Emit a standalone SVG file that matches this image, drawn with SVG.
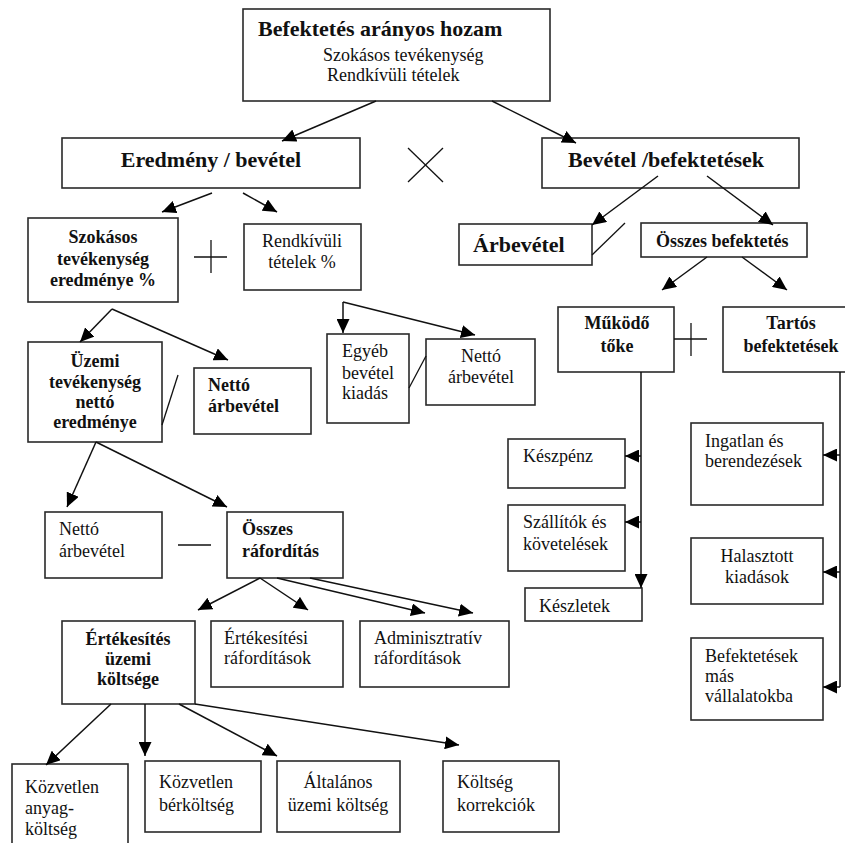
<svg xmlns="http://www.w3.org/2000/svg" width="845" height="843" viewBox="0 0 845 843">
<style>
.b{fill:#fff;stroke:#2a2a2a;stroke-width:1.6}
.t{font-family:"Liberation Serif","Times New Roman",serif;font-size:18px;fill:#111}
.bd{font-weight:bold}
.big{font-size:22px}
.m{text-anchor:middle}
.c line,.c path{stroke:#111;stroke-width:1.5;fill:none}
.s line{stroke:#111;stroke-width:1.3}
</style>
<defs>
<marker id="ah" markerUnits="userSpaceOnUse" markerWidth="15" markerHeight="13" refX="14" refY="6.5" orient="auto">
<path d="M0,0 L14,6.5 L0,13 Z" fill="#000"/>
</marker>
</defs>
<rect width="845" height="843" fill="#fff"/>

<g id="top"><rect class="b" x="243" y="9" width="307" height="92"/>
<text class="t bd big" x="258" y="36">Befektetés arányos hozam</text>
<text class="t" x="323" y="61">Szokásos tevékenység</text>
<text class="t" x="327" y="81">Rendkívüli tételek</text></g>

<g id="eredmeny"><rect class="b" x="62" y="138" width="298" height="50"/>
<text class="t bd big m" x="211" y="167">Eredmény / bevétel</text></g>

<g id="bevetel"><rect class="b" x="542" y="138" width="257" height="50"/>
<text class="t bd big" x="568" y="167">Bevétel /befektetések</text></g>

<g id="szokasos"><rect class="b" x="28" y="218" width="150" height="84"/>
<text class="t bd m" x="103" y="243">Szokásos</text>
<text class="t bd m" x="103" y="265">tevékenység</text>
<text class="t bd m" x="103" y="286">eredménye %</text></g>

<g id="rendkivuli"><rect class="b" x="244" y="224" width="117" height="66"/>
<text class="t m" x="302" y="247">Rendkívüli</text>
<text class="t m" x="302" y="268">tételek %</text></g>

<g id="arbevetel"><rect class="b" x="459" y="224" width="133" height="41"/>
<text class="t bd big" x="473" y="252">Árbevétel</text></g>

<g id="osszesbef"><rect class="b" x="641" y="223" width="166" height="34"/>
<text class="t bd" x="656" y="247">Összes befektetés</text></g>

<g id="mukodo"><rect class="b" x="558" y="307" width="116" height="65"/>
<text class="t bd m" x="617" y="329">Működő</text>
<text class="t bd m" x="617" y="352">tőke</text></g>

<g id="tartos"><rect class="b" x="723" y="307" width="130" height="65"/>
<text class="t bd m" x="791" y="329">Tartós</text>
<text class="t bd m" x="791" y="352">befektetések</text></g>

<g id="uzemi"><rect class="b" x="28" y="342" width="134" height="100"/>
<text class="t bd m" x="95" y="367">Üzemi</text>
<text class="t bd m" x="95" y="388">tevékenység</text>
<text class="t bd m" x="95" y="408">nettó</text>
<text class="t bd m" x="95" y="428">eredménye</text></g>

<g id="netto1"><rect class="b" x="194" y="368" width="117" height="66"/>
<text class="t bd" x="208" y="391">Nettó</text>
<text class="t bd" x="208" y="412">árbevétel</text></g>

<g id="egyeb"><rect class="b" x="327" y="334" width="82" height="89"/>
<text class="t" x="342" y="357">Egyéb</text>
<text class="t" x="342" y="379">bevétel</text>
<text class="t" x="342" y="399">kiadás</text></g>

<g id="netto2"><rect class="b" x="426" y="339" width="109" height="66"/>
<text class="t m" x="481" y="362">Nettó</text>
<text class="t m" x="481" y="383">árbevétel</text></g>

<g id="keszpenz"><rect class="b" x="508" y="439" width="117" height="49"/>
<text class="t" x="523" y="462">Készpénz</text></g>

<g id="szallitok"><rect class="b" x="508" y="505" width="117" height="66"/>
<text class="t" x="523" y="528">Szállítók és</text>
<text class="t" x="523" y="550">követelések</text></g>

<g id="keszletek"><rect class="b" x="525" y="588" width="117" height="33"/>
<text class="t" x="539" y="612">Készletek</text></g>

<g id="ingatlan"><rect class="b" x="691" y="423" width="132" height="82"/>
<text class="t" x="705" y="447">Ingatlan és</text>
<text class="t" x="705" y="467">berendezések</text></g>

<g id="halasztott"><rect class="b" x="691" y="538" width="132" height="66"/>
<text class="t m" x="757" y="562">Halasztott</text>
<text class="t m" x="757" y="583">kiadások</text></g>

<g id="befmas"><rect class="b" x="691" y="638" width="132" height="82"/>
<text class="t" x="705" y="662">Befektetések</text>
<text class="t" x="705" y="682">más</text>
<text class="t" x="705" y="702">vállalatokba</text></g>

<g id="netto3"><rect class="b" x="45" y="512" width="117" height="66"/>
<text class="t" x="59" y="535">Nettó</text>
<text class="t" x="59" y="557">árbevétel</text></g>

<g id="osszesraf"><rect class="b" x="227" y="512" width="116" height="66"/>
<text class="t bd" x="242" y="535">Összes</text>
<text class="t bd" x="242" y="557">ráfordítás</text></g>

<g id="ertekesites"><rect class="b" x="62" y="621" width="133" height="83"/>
<text class="t bd m" x="128" y="645">Értékesítés</text>
<text class="t bd m" x="128" y="665">üzemi</text>
<text class="t bd m" x="128" y="685">költsége</text></g>

<g id="ertekesitesi"><rect class="b" x="211" y="621" width="132" height="66"/>
<text class="t" x="224" y="644">Értékesítési</text>
<text class="t" x="224" y="664">ráfordítások</text></g>

<g id="admin"><rect class="b" x="360" y="621" width="149" height="66"/>
<text class="t" x="374" y="644">Adminisztratív</text>
<text class="t" x="374" y="664">ráfordítások</text></g>

<g id="anyag"><rect class="b" x="12" y="764" width="116" height="100"/>
<text class="t" x="25" y="793">Közvetlen</text>
<text class="t" x="25" y="814">anyag-</text>
<text class="t" x="25" y="835">költség</text></g>

<g id="ber"><rect class="b" x="145" y="761" width="116" height="71"/>
<text class="t" x="159" y="788">Közvetlen</text>
<text class="t" x="159" y="811">bérköltség</text></g>

<g id="altalanos"><rect class="b" x="277" y="761" width="123" height="71"/>
<text class="t m" x="338" y="788">Általános</text>
<text class="t m" x="338" y="811">üzemi költség</text></g>

<g id="korrekcio"><rect class="b" x="443" y="761" width="116" height="71"/>
<text class="t" x="457" y="788">Költség</text>
<text class="t" x="457" y="811">korrekciók</text></g>

<g id="connectors" class="c">
<line x1="376" y1="101" x2="282" y2="141" marker-end="url(#ah)"/>
<line x1="492" y1="101" x2="576" y2="143" marker-end="url(#ah)"/>
<line x1="212" y1="193" x2="162" y2="212" marker-end="url(#ah)"/>
<line x1="243" y1="193" x2="277" y2="212" marker-end="url(#ah)"/>
<line x1="658" y1="176" x2="592" y2="225" marker-end="url(#ah)"/>
<line x1="707" y1="176" x2="773" y2="225" marker-end="url(#ah)"/>
<line x1="707" y1="257" x2="662" y2="290" marker-end="url(#ah)"/>
<line x1="742" y1="257" x2="787" y2="290" marker-end="url(#ah)"/>
<line x1="112" y1="309" x2="80" y2="342" marker-end="url(#ah)"/>
<line x1="112" y1="309" x2="228" y2="360" marker-end="url(#ah)"/>
<line x1="343" y1="302" x2="343" y2="333" marker-end="url(#ah)"/>
<line x1="343" y1="302" x2="475" y2="335" marker-end="url(#ah)"/>
<line x1="641" y1="372" x2="641" y2="588" marker-end="url(#ah)"/>
<line x1="641" y1="456" x2="625" y2="456" marker-end="url(#ah)"/>
<line x1="641" y1="522" x2="625" y2="522" marker-end="url(#ah)"/>
<line x1="840" y1="372" x2="840" y2="687"/>
<line x1="840" y1="455" x2="823" y2="455" marker-end="url(#ah)"/>
<line x1="840" y1="572" x2="823" y2="572" marker-end="url(#ah)"/>
<line x1="840" y1="687" x2="823" y2="687" marker-end="url(#ah)"/>
<line x1="96" y1="442" x2="67" y2="507" marker-end="url(#ah)"/>
<line x1="96" y1="442" x2="227" y2="507" marker-end="url(#ah)"/>
<line x1="260" y1="578" x2="198" y2="610" marker-end="url(#ah)"/>
<line x1="260" y1="578" x2="308" y2="610" marker-end="url(#ah)"/>
<line x1="277" y1="578" x2="425" y2="613" marker-end="url(#ah)"/>
<line x1="310" y1="578" x2="473" y2="613" marker-end="url(#ah)"/>
<line x1="111" y1="704" x2="46" y2="765" marker-end="url(#ah)"/>
<line x1="145" y1="704" x2="145" y2="756" marker-end="url(#ah)"/>
<line x1="179" y1="704" x2="277" y2="756" marker-end="url(#ah)"/>
<line x1="195" y1="704" x2="459" y2="745" marker-end="url(#ah)"/>
</g>

<g id="signs" class="s">
<line x1="408" y1="148" x2="443" y2="182"/>
<line x1="443" y1="148" x2="408" y2="182"/>
<line x1="194" y1="257" x2="227" y2="257"/>
<line x1="211" y1="240" x2="211" y2="273"/>
<line x1="674" y1="339" x2="707" y2="339"/>
<line x1="691" y1="323" x2="691" y2="356"/>
<line x1="178" y1="545" x2="211" y2="545"/>
<line x1="592" y1="255" x2="625" y2="223"/>
<line x1="162" y1="425" x2="178" y2="375"/>
<line x1="409" y1="388" x2="426" y2="356"/>
</g>
</svg>
